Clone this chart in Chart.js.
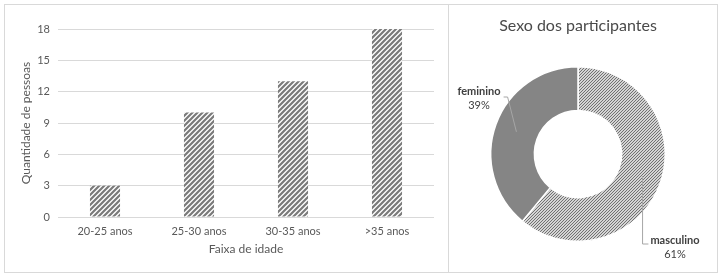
<!DOCTYPE html>
<html>
<head>
<meta charset="utf-8">
<script src="https://cdn.jsdelivr.net/npm/chart.js@4/dist/chart.umd.min.js"></script>
<style>
  body { margin: 0; background: #fff; }
  #wrap { position: relative; width: 721px; height: 277px; }
  #frame { position: absolute; left: 4px; top: 4px; width: 712px; height: 267px; border: 1px solid #d9d9d9; }
  #divider { position: absolute; left: 448px; top: 4px; width: 1px; height: 268px; background: #d9d9d9; }
  #barBox { position: absolute; left: 5px; top: 5px; width: 443px; height: 267px; }
  #pieBox { position: absolute; left: 449px; top: 5px; width: 258px; height: 267px; }
</style>
</head>
<body>
<div id="wrap">
  <div id="frame"></div>
  <div id="divider"></div>
  <div id="barBox"><canvas id="barChart" width="443" height="267"></canvas></div>
  <div id="pieBox"><canvas id="pieChart" width="258" height="267"></canvas></div>
</div>
<script>
// dados
const faixas = ['20-25 anos', '25-30 anos', '30-35 anos', '>35 anos'];
const quantidades = [3, 10, 13, 18];
const yTicks = [0, 3, 6, 9, 12, 15, 18];

const sexos = ['masculino', 'feminino'];
const percentuais = [61, 39];

const FONT = 'Lato, "Open Sans", sans-serif';
const TEXT = '#595959';

function hatch(ctx, size, lineW, color) {
  const c = document.createElement('canvas');
  c.width = size; c.height = size;
  const g = c.getContext('2d');
  g.fillStyle = '#fff';
  g.fillRect(0, 0, size, size);
  g.strokeStyle = color;
  g.lineWidth = lineW;
  g.beginPath();
  [-size, 0, size].forEach(k => {
    g.moveTo(k - 1, size + 1);
    g.lineTo(k + size + 1, -1);
  });
  g.stroke();
  return ctx.createPattern(c, 'repeat');
}

// barras
const barCtx = document.getElementById('barChart').getContext('2d');
new Chart(barCtx, {
  type: 'bar',
  data: {
    labels: faixas,
    datasets: [{
      data: quantidades,
      backgroundColor: hatch(barCtx, 5, 2.2, '#7a7a7a'),
      borderWidth: 0,
      barPercentage: 0.32,
      categoryPercentage: 1
    }]
  },
  options: {
    responsive: false,
    animation: false,
    layout: { padding: { top: 24, right: 14, left: 0, bottom: 0 } },
    plugins: { legend: { display: false }, tooltip: { enabled: false } },
    scales: {
      x: {
        grid: { display: false, drawTicks: false },
        border: { display: false },
        ticks: { color: TEXT, font: { family: FONT, size: 11 }, padding: 8 },
        title: { display: true, text: 'Faixa de idade', color: TEXT, font: { family: FONT, size: 12 }, padding: { top: 0, bottom: 16 } },
        afterFit: s => { s.height = 55; }
      },
      y: {
        min: 0, max: 18,
        afterBuildTicks: s => { s.ticks = yTicks.map(v => ({ value: v })); },
        grid: { color: '#d9d9d9', drawTicks: false, lineWidth: 1 },
        border: { display: false },
        ticks: { color: TEXT, font: { family: FONT, size: 11 }, padding: 8 },
        title: { display: true, text: 'Quantidade de pessoas', color: TEXT, font: { family: FONT, size: 12 }, padding: { top: 14, bottom: 0 } },
        afterFit: s => { s.width = 53; }
      }
    }
  }
});

// rosca
const labelOffsets = [[97, 86], [-99, -63]];

const pieLabels = {
  id: 'pieLabels',
  afterDatasetsDraw(chart) {
    const ctx = chart.ctx;
    const arcs = chart.getDatasetMeta(0).data;
    ctx.save();
    arcs.forEach((arc, i) => {
      const p = arc.tooltipPosition();
      const lx = arc.x + labelOffsets[i][0];
      const ly = arc.y + labelOffsets[i][1];
      ctx.font = 'bold 11px ' + FONT;
      const w = ctx.measureText(sexos[i]).width;
      ctx.strokeStyle = '#a6a6a6';
      ctx.lineWidth = 1;
      ctx.beginPath();
      if (lx > arc.x) {
        ctx.moveTo(p.x + 3, p.y);
        ctx.lineTo(p.x + 3, ly + 4);
        ctx.lineTo(lx - w / 2 - 2, ly + 4);
      } else {
        ctx.moveTo(lx + w / 2 + 3, ly + 6);
        ctx.lineTo(lx + w / 2 + 7, ly + 6);
        ctx.lineTo(p.x, p.y);
      }
      ctx.stroke();
      ctx.fillStyle = '#404040';
      ctx.textAlign = 'center';
      ctx.textBaseline = 'middle';
      ctx.fillText(sexos[i], lx, ly);
      ctx.font = '11px ' + FONT;
      ctx.fillText(percentuais[i] + '%', lx, ly + 14);
    });
    ctx.restore();
  }
};

const pieCtx = document.getElementById('pieChart').getContext('2d');
new Chart(pieCtx, {
  type: 'doughnut',
  data: {
    labels: sexos,
    datasets: [{
      data: percentuais,
      backgroundColor: [hatch(pieCtx, 3, 1.1, '#6a6a6a'), '#858585'],
      borderColor: '#fff',
      borderWidth: 1.5
    }]
  },
  options: {
    responsive: false,
    animation: false,
    cutout: '50%',
    layout: { padding: { top: 0, left: 41, right: 41, bottom: 30 } },
    plugins: {
      legend: { display: false },
      tooltip: { enabled: false },
      title: {
        display: true,
        text: 'Sexo dos participantes',
        color: '#4a4a4a',
        font: { family: FONT, size: 16, weight: 'normal' },
        padding: { top: 11, bottom: 30.8 }
      }
    }
  },
  plugins: [pieLabels]
});
</script>
</body>
</html>
